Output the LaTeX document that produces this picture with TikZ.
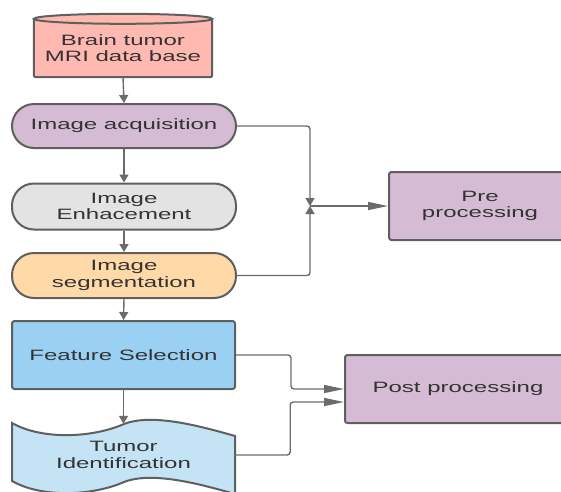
\documentclass[tikz,border=0pt]{standalone}
\usepackage{fontspec}
\setmainfont[FakeStretch=1.6]{Liberation Sans}
\usetikzlibrary{arrows.meta,calc,backgrounds}
\definecolor{edgegrey}{HTML}{5F5F5F}
\definecolor{linegrey}{HTML}{6B6B6B}
\definecolor{txt}{HTML}{333333}
\definecolor{dbfill}{HTML}{FFB9B1}
\definecolor{lilac}{HTML}{D5BCD4}
\definecolor{greyfill}{HTML}{E3E3E3}
\definecolor{peach}{HTML}{FFDAA8}
\definecolor{bluefill}{HTML}{9AD0F2}
\definecolor{paleblue}{HTML}{C4E4F6}
\begin{document}
\begin{tikzpicture}[x=1pt,y=-1pt,
  every node/.style={text=txt, font=\fontsize{15}{16.5}\selectfont, align=center, inner sep=0pt},
  shapeline/.style={draw=edgegrey, line width=2pt},
  pill/.style={shapeline, rounded corners=22pt, minimum width=224pt, minimum height=44pt},
  box/.style={shapeline, rounded corners=2.5pt},
  conn/.style={draw=linegrey, line width=1.4pt, rounded corners=3pt},
  shorthead/.style={-{Triangle[length=8pt,width=9pt]}},
  longhead/.style={-{Triangle[length=20pt,width=8pt]}}
]
\useasboundingbox (0,0) rectangle (561,491);
\clip (0,0) rectangle (561,491);

% main column
\node[minimum width=178pt, minimum height=58pt] (db) at (123,48) {Brain tumor\\MRI data base};
\node[pill, fill=lilac] (acq) at (124,126) {Image acquisition};
\node[pill, fill=greyfill, minimum height=46pt] (enh) at (124,206.5) {Image\\Enhacement};
\node[pill, fill=peach, minimum height=45pt] (seg) at (124,275.5) {Image\\segmentation};
\node[box, fill=bluefill, minimum width=223pt, minimum height=68pt] (feat) at (123.5,355) {Feature Selection};
\node[minimum width=223pt, minimum height=62pt] (tumor) at (123.5,455) {Tumor\\Identification};

% processing stages
\node[box, fill=lilac, minimum width=182pt, minimum height=68pt] (pre) at (480,206) {Pre\\processing};
\node[box, fill=lilac, minimum width=226pt, minimum height=68pt] (post) at (458,389) {Post processing};

% database cylinder and tape outline behind their labels
\begin{scope}[on background layer]
  \filldraw[shapeline, fill=dbfill, rounded corners=2pt]
    (db.north west) -- (db.south west) -- (db.south east) -- (db.north east);
  \filldraw[shapeline, fill=dbfill] (db.north) ellipse [x radius=89pt, y radius=5pt];
  \filldraw[shapeline, fill=paleblue]
    (12,423) .. controls (42,440) and (92,438) .. (124,424)
    .. controls (152,413) and (200,426) .. (235,436)
    -- (235,494)
    .. controls (200,484) and (152,471) .. (124,482)
    .. controls (92,496) and (42,498) .. (12,481) -- cycle;
\end{scope}

% vertical flow
\draw[conn, shorthead] (db.south) -- (acq.north);
\draw[conn, shorthead] (acq.south) -- (enh.north);
\draw[conn, shorthead] (enh.south) -- (seg.north);
\draw[conn, shorthead] (seg.south) -- (feat.north);
\draw[conn, shorthead] (feat.south) -- (tumor.north);

% merge into pre processing
\coordinate (join) at (310,206);
\draw[conn, shorthead] (acq.east) -| (join);
\draw[conn, shorthead] (seg.east) -| (join);
\draw[conn, longhead] (join) -- (pre.west);

% links into post processing
\draw[conn, longhead] (feat.east) -- ++(55,0) |- (post.west);
\draw[conn, longhead] (tumor.east) -- ++(55,0) |- ($(post.west)+(0,13)$);
\end{tikzpicture}
\end{document}
